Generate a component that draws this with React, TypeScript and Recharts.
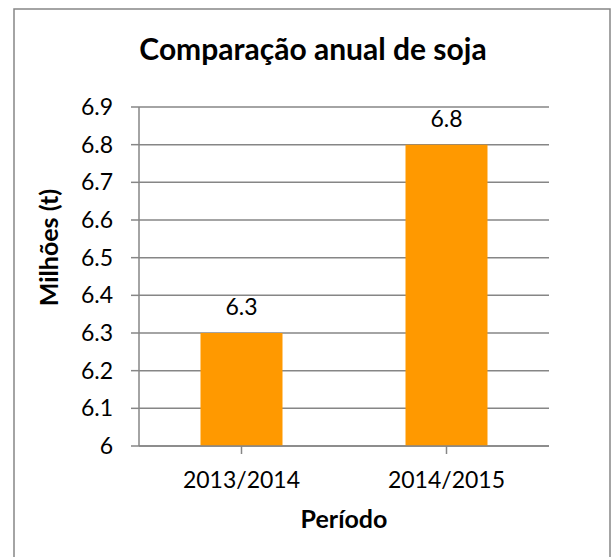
import { Bar, BarChart, CartesianGrid, LabelList, XAxis, YAxis } from 'recharts'

const periods = ['2013/2014', '2014/2015']
const production = [6.3, 6.8]
const yTicks = [6, 6.1, 6.2, 6.3, 6.4, 6.5, 6.6, 6.7, 6.8, 6.9]

const data = periods.map((period, i) => ({ period, value: production[i] }))

const FONT = 'Lato, "Open Sans", sans-serif'
const GRAY = '#868686'
const ORANGE = '#FF9900'

const fmt = (v: number) => (Number.isInteger(v) ? String(v) : v.toFixed(1))

export default function App() {
  return (
    <div style={{ position: 'absolute', left: 0, top: 0, width: 615, height: 557, background: '#fff' }}>
      <svg
        width={615}
        height={557}
        style={{ position: 'absolute', left: 0, top: 0, pointerEvents: 'none' }}
      >
        <rect x={14} y={9} width={596} height={560} fill="none" stroke={GRAY} strokeWidth={1.5} />
        <text
          x={313}
          y={60}
          textAnchor="middle"
          fontFamily={FONT}
          fontWeight="bold"
          fontSize={30}
          fill="#000"
        >
          Comparação anual de soja
        </text>
      </svg>
      <BarChart
        width={615}
        height={557}
        data={data}
        margin={{ top: 107, right: 66, bottom: 0, left: 0 }}
        barCategoryGap="30%"
        style={{ fontFamily: FONT }}
      >
        <CartesianGrid vertical={false} stroke={GRAY} strokeWidth={1.5} />
        <XAxis
          dataKey="period"
          stroke={GRAY}
          strokeWidth={1.5}
          tickSize={8}
          tickMargin={18}
          tick={{ fill: '#000', fontSize: 23, fontFamily: FONT }}
          height={111}
          interval={0}
          label={{
            value: 'Período',
            position: 'insideTop',
            offset: 64,
            fill: '#000',
            fontSize: 25,
            fontWeight: 'bold',
            fontFamily: FONT,
          }}
        />
        <YAxis
          width={139}
          domain={[6, 6.9]}
          ticks={yTicks}
          interval={0}
          tickFormatter={fmt}
          allowDataOverflow
          stroke={GRAY}
          strokeWidth={1.5}
          tickSize={8}
          tickMargin={18}
          tick={{ fill: '#000', fontSize: 23, fontFamily: FONT }}
          label={{
            value: 'Milhões (t)',
            content: ({ viewBox }: any) => (
              <text
                x={viewBox.x + 58}
                y={viewBox.y + viewBox.height / 2 - 29}
                transform={`rotate(-90, ${viewBox.x + 58}, ${viewBox.y + viewBox.height / 2 - 29})`}
                textAnchor="middle"
                fontFamily={FONT}
                fontWeight="bold"
                fontSize={25}
                fill="#000"
              >
                Milhões (t)
              </text>
            ),
          }}
        />
        <Bar dataKey="value" fill={ORANGE} isAnimationActive={false}>
          <LabelList
            dataKey="value"
            position="top"
            offset={18}
            formatter={(v: any) => fmt(Number(v))}
            fill="#000"
            fontSize={23}
            fontFamily={FONT}
          />
        </Bar>
      </BarChart>
    </div>
  )
}
